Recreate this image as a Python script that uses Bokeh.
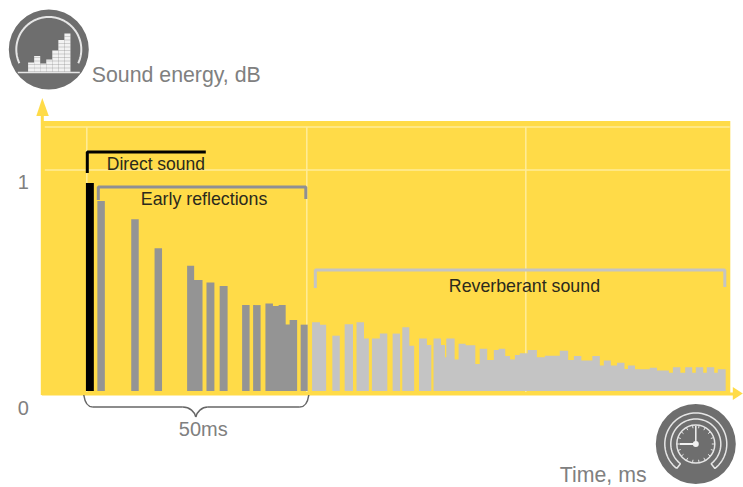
import numpy as np
from bokeh.plotting import figure
from bokeh.models import Range1d
from bokeh.core.properties import value
from bokeh.embed import file_html
from bokeh.resources import INLINE

# ---- data (time in ms, level relative to direct sound) ----
direct_start = [-0.2]
direct_end = [1.6]
direct_level = [1.0]

early_start = [2.4, 10.1, 15.4, 22.8, 24.4, 27.2, 30.2, 35.3, 37.8, 40.6, 42.3, 43.6, 45.2, 46.1, 48.6]
early_end = [4.1, 11.8, 17.1, 24.4, 26.3, 29.0, 32.0, 37.0, 39.5, 42.3, 43.6, 45.2, 46.1, 47.8, 50.2]
early_level = [.913, .826, .686, .602, .534, .522, .505, .413, .413, .421, .409, .413, .32, .341, .319]

reverb_start = [51.2, 53.0, 55.8, 58.6, 61.3, 63.0, 64.8, 66.6, 69.5, 71.7, 73.3, 75.5, 77.3, 78.8, 80.5, 81.4,
                81.7, 83.6, 84.5, 86.1, 88.3, 89.3, 91.0, 92.5, 93.6, 95.1, 96.2, 97.3, 98.4, 100.2, 102.3, 104.1,
                107.5, 109.4, 110.7, 112.4, 114.9, 116.6, 117.5, 119.1, 120.5, 122.2, 123.0, 124.6, 127.95, 129.6,
                132.3, 133.2, 134.9, 136.0, 137.6, 138.4, 140.1, 140.9, 142.6, 143.4]
reverb_end = [53.0, 54.4, 57.5, 60.5, 63.0, 64.1, 66.6, 68.3, 71.2, 73.3, 74.4, 77.3, 78.3, 80.5, 81.4, 81.7,
              83.6, 84.5, 86.1, 88.3, 89.3, 91.0, 92.5, 93.6, 95.1, 96.2, 97.3, 98.4, 100.2, 102.3, 104.1, 107.5,
              109.4, 110.7, 112.4, 114.9, 116.6, 117.5, 119.1, 120.5, 122.2, 123.0, 124.6, 127.95, 129.6, 132.3,
              133.2, 134.9, 136.0, 137.6, 138.4, 140.1, 140.9, 142.6, 143.4, 145.2]
reverb_level = [.330, .319, .266, .321, .330, .253, .253, .276, .276, .306, .218, .252, .221, .252, .221, .162,
                .253, .151, .227, .22, .13, .203, .149, .197, .203, .168, .151, .173, .181, .197, .162, .17,
                .194, .149, .168, .147, .168, .122, .147, .123, .136, .106, .122, .104, .112, .098,
                .088, .114, .088, .114, .088, .114, .088, .114, .088, .104]

y_tick_labels = ["1", "0"]
x_title = "Time, ms"
y_title = "Sound energy, dB"
label_direct = "Direct sound"
label_early = "Early reflections"
label_reverb = "Reverberant sound"
label_span = "50ms"
icon_bar_tops = [62.5, 56, 63.5, 59.5, 50.5, 40, 33.5]

# ---- styles ----
YELLOW = "#FFDB48"
GRID = "#FFEC9A"
ICON = "#6E6E6E"
TXT = "#808080"
FONT = value("Liberation Sans")

PX_PER_MS = 4.4
PX_PER_UNIT = 208.0
DX, DY = 0.7, 0.5      # picture nudge
X0, Y0 = 87.0 - DX, 391.0 - DY   # position of (0 ms, level 0) in the drawing
W, H = 743, 487

p = figure(width=W, height=H, output_backend="svg", toolbar_location=None,
           x_axis_type=None, y_axis_type=None, min_border=0,
           x_range=Range1d(-X0 / PX_PER_MS, (W - X0) / PX_PER_MS),
           y_range=Range1d((Y0 - H) / PX_PER_UNIT, Y0 / PX_PER_UNIT))
p.outline_line_color = None
p.grid.visible = False
p.background_fill_color = "white"
p.border_fill_color = "white"
# a picture-pixel coordinate system for annotations
p.extra_x_ranges["px"] = Range1d(DX, W + DX)
p.extra_y_ranges["px"] = Range1d(H + DY, DY)
PX = dict(x_range_name="px", y_range_name="px")


def poly(xs, ys, color, width=1.5, **kw):
    p.line(xs, ys, line_color=color, line_width=width, **PX, **kw)


def label(x, y, s, color="#2B2A1C", size="17px", align="left"):
    p.text([x], [y], text=[s], text_color=color, text_font=FONT, text_font_size=size,
           text_align=align, text_baseline="middle", **PX)


def bars(starts, ends, levels, color):
    """Touching bars are joined in one outline, so that no seam shows between them."""
    xs, ys, run_x, run_y = [], [], [], []
    for i, (a, b, v) in enumerate(zip(starts, ends, levels)):
        if not run_x:
            run_x, run_y = [a], [0]
        run_x += [a, b]
        run_y += [v, v]
        if i == len(starts) - 1 or starts[i + 1] != b:
            xs.append(run_x + [b])
            ys.append(run_y + [0])
            run_x, run_y = [], []
    p.patches(xs, ys, fill_color=color, line_color=None)


# plot field and axes
p.quad(left=[42], right=[730.5], top=[121], bottom=[395], fill_color=YELLOW, line_color=None, **PX)
p.segment(x0=[45, 45], x1=[730, 730], y0=[127, 170], y1=[127, 170], line_color=GRID, line_width=1.5, **PX)
p.segment(x0=[87, 307, 526], x1=[87, 307, 526], y0=[127, 127, 127], y1=[392, 392, 392],
          line_color=GRID, line_width=1.5, **PX)
poly([42.5, 42.5], [395, 112], YELLOW, 3)
poly([42, 735], [394, 394], YELLOW, 3)
p.patch([42.5, 36.5, 49], [98, 116, 116], fill_color=YELLOW, line_color=None, **PX)
p.patch([743, 733, 733], [393.5, 387, 400], fill_color=YELLOW, line_color=None, **PX)

# bars
bars(reverb_start, reverb_end, reverb_level, "#C4C4C4")
bars(early_start, early_end, early_level, "#949494")
bars(direct_start, direct_end, direct_level, "#000000")

# brackets
poly([87.5, 87.5, 206], [173, 152, 152], "#000000", 3)
poly([98.5, 98.5, 306, 306], [200, 187, 187, 199], "#8F8F93", 3)
poly([315.5, 315.5, 725, 725], [288, 270, 270, 287], "#C4C4C4", 3)

# brace under the early part
p.bezier(x0=[84, 183, 196, 300], y0=[395, 407, 417, 407],
         x1=[93, 196, 208, 309], y1=[407, 417, 407, 395],
         cx0=[85, 190, 197, 305], cy0=[402, 407, 412, 407],
         cx1=[87, 195, 202, 308], cy1=[407, 412, 407, 402],
         line_color="#666666", line_width=1.5, **PX)
p.segment(x0=[93, 208], x1=[183, 300], y0=[407, 407], y1=[407, 407], line_color="#666666", line_width=1.5, **PX)

# texts
label(92, 75, y_title, TXT, "21.3px")
label(560, 475, x_title, TXT, "21.3px")
label(18, 182, y_tick_labels[0], TXT, "20px")
label(18, 408, y_tick_labels[1], TXT, "20px")
label(107, 164, label_direct, size="17.5px")
label(141, 199, label_early, size="17.8px")
label(449, 286, label_reverb, size="17.8px")
label(179, 429, label_span, TXT, "20px")

# sound icon
cx, cy, r = 49, 49.5, 40
p.scatter([cx], [cy], size=2 * r, marker="circle", fill_color=ICON, line_color=None, **PX)
t = np.radians(np.linspace(-205, 25, 80))
poly(cx + 32.5 * np.cos(t), cy + 32.5 * np.sin(t), "#E6E6E6", 2)
poly([cx - 31, cx + 31], [72.5, 72.5], "#E6E6E6", 1.5)
bar_l = [28.3 + 6.05 * i for i in range(7)]
p.quad(left=bar_l, right=[b + 6.05 for b in bar_l], top=icon_bar_tops, bottom=[72] * 7,
       fill_color="#F2F2F2", line_color=None, **PX)
stripe = np.arange(36.5, 72, 3.5)
for l, top in zip(bar_l, icon_bar_tops):
    ys = stripe[stripe > top]
    p.segment(x0=[l] * len(ys), x1=[l + 6.05] * len(ys), y0=ys, y1=ys,
              line_color=ICON, line_width=0.6, line_alpha=0.45, **PX)

# time icon
cx, cy = 696, 444
p.scatter([cx], [cy], size=2 * 40, marker="circle", fill_color=ICON, line_color=None, **PX)
t = np.radians(np.linspace(128, 412, 90))
xo, yo = cx + 31 * np.cos(t), cy + 31 * np.sin(t)
xi, yi = cx + 25 * np.cos(t[::-1]), cy + 25 * np.sin(t[::-1])
poly(np.r_[xo, xi, xo[0]], np.r_[yo, yi, yo[0]], "#E6E6E6", 1.5)
p.scatter([cx], [cy], size=38, marker="circle", fill_color=ICON, line_color="#E6E6E6", line_width=1.5, **PX)
a = np.radians(np.arange(0, 360, 20))
p.segment(x0=cx + 16 * np.cos(a), x1=cx + 19 * np.cos(a), y0=cy + 16 * np.sin(a), y1=cy + 19 * np.sin(a),
          line_color="#E6E6E6", line_width=1, **PX)
poly([cx, cx], [cy, 426], "#F2F2F2", 1.5)
poly([cx, 680], [cy, cy], "#F2F2F2", 2)
p.scatter([cx], [cy], size=6, marker="circle", fill_color="#F2F2F2", line_color=None, **PX)

open("out.html", "w").write(file_html(p, INLINE))
